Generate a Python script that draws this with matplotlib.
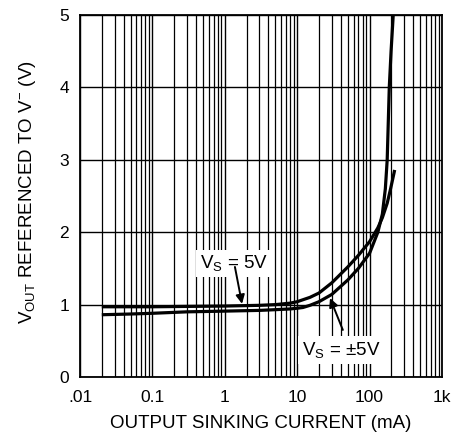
import matplotlib
matplotlib.use("Agg")
import matplotlib.pyplot as plt
from matplotlib.ticker import FixedLocator, LogLocator, NullFormatter

plt.rcParams['font.family'] = ['Liberation Sans', 'DejaVu Sans']
plt.rcParams['mathtext.fontset'] = 'custom'
plt.rcParams['mathtext.rm'] = 'Liberation Sans'
plt.rcParams['mathtext.it'] = 'Liberation Sans'

# Data
i_5v = [0.02, 0.05, 0.1, 0.3, 1, 3, 5, 8, 10, 15, 20, 30, 50, 70, 100, 130, 150, 175, 195, 222]
v_5v = [0.97, 0.97, 0.97, 0.975, 0.98, 0.99, 1.0, 1.02, 1.04, 1.10, 1.16, 1.30, 1.52, 1.68, 1.87, 2.06, 2.2, 2.4, 2.6, 2.86]

i_pm5v = [0.02, 0.05, 0.1, 0.3, 1, 3, 5, 8, 10, 12, 15, 20, 30, 50, 70, 100, 130, 150, 165, 175, 187, 198, 212]
v_pm5v = [0.86, 0.87, 0.88, 0.90, 0.91, 0.92, 0.93, 0.94, 0.95, 0.96, 0.99, 1.04, 1.14, 1.34, 1.50, 1.71, 2.0, 2.25, 2.6, 3.0, 4.0, 4.5, 5.0]

xticks = [0.01, 0.1, 1, 10, 100, 1000]
xticklabels = ['.01', '0.1', '1', '10', '100', '1k']
yticks = [0, 1, 2, 3, 4, 5]

fig = plt.figure(figsize=(4.51, 4.43), dpi=100)
ax = fig.add_axes([80/451, 1 - 377/443, 362/451, 362/443])

ax.set_xscale('log')
ax.set_xlim(0.01, 1000)
ax.set_ylim(0, 5)

ax.set_xticks(xticks)
ax.set_xticklabels(xticklabels)
ax.xaxis.set_minor_locator(LogLocator(base=10, subs=range(2, 10)))
ax.xaxis.set_minor_formatter(NullFormatter())
ax.set_yticks(yticks)

ax.grid(True, which='major', axis='both', color='black', linewidth=1.0)
ax.grid(True, which='minor', axis='x', color='black', linewidth=0.9)
ax.set_axisbelow(True)
ax.tick_params(which='both', length=0, labelsize=12.5)
ax.tick_params(axis='x', pad=9)
ax.tick_params(axis='y', pad=8)

for s in ax.spines.values():
    s.set_linewidth(1.3)

ax.plot(i_5v, v_5v, color='black', linewidth=2.3, solid_capstyle='butt', zorder=3)
ax.plot(i_pm5v, v_pm5v, color='black', linewidth=2.3, solid_capstyle='butt', zorder=3)

box = dict(boxstyle='square,pad=0.2', fc='white', ec='none')
ax.text(0.45, 1.57, r'V$_{\rm S}$ = 5V', fontsize=13.5, ha='left', va='center',
        bbox=box, zorder=4)
ax.text(11.6, 0.37, r'V$_{\rm S}$ = ±5V', fontsize=13.5, ha='left', va='center',
        bbox=box, zorder=4)
arrow = dict(arrowstyle='-|>', color='black', lw=1.4, mutation_scale=13,
             shrinkA=0, shrinkB=0)
ax.annotate('', xy=(1.73, 1.01), xytext=(1.38, 1.52), arrowprops=arrow, zorder=5)
ax.annotate('', xy=(28.4, 1.09), xytext=(42.7, 0.65), arrowprops=arrow, zorder=5)

ax.set_xlabel('OUTPUT SINKING CURRENT (mA)', fontsize=13.5)
ax.xaxis.set_label_coords(0.5, -0.104)
ax.set_ylabel(r'V$_{\rm OUT}$ REFERENCED TO V$^{-}$ (V)', fontsize=13.5)
ax.yaxis.set_label_coords(-0.115, 0.51)

fig.savefig('out.png', dpi=100)
